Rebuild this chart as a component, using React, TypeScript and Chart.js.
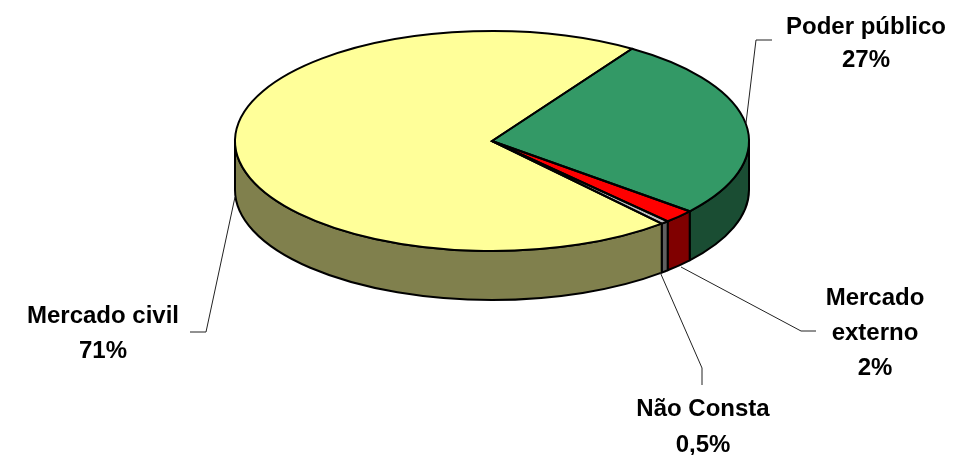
import React, { useEffect, useRef } from "react";
import { Chart, registerables } from "chart.js";

Chart.register(...registerables);

const categories = ["Poder público", "Mercado externo", "Não Consta", "Mercado civil"];
const values = [27, 2, 0.5, 71];
const topColors = ["#339966", "#FF0000", "#C0C0C0", "#FFFF99"];
const wallColors = ["#1A4D33", "#800000", "#606060", "#80804D"];
const labelLines = [
  ["Poder público", "27%"],
  ["Mercado", "externo", "2%"],
  ["Não Consta", "0,5%"],
  ["Mercado civil", "71%"],
];
const labelAnchors = [
  { x: 866, ys: [34, 67] },
  { x: 875, ys: [305, 340, 375] },
  { x: 703, ys: [416, 452] },
  { x: 103, ys: [323, 358] },
];
const leaders = [
  [[746, 123], [756, 40], [772, 40]],
  [[681, 267], [801, 331], [816, 331]],
  [[660, 272], [702, 368], [702, 385]],
  [[235, 197], [206, 332], [190, 332]],
];

const XSTRETCH = 257 / 110;
const DEPTH = 49;

const pie3d = {
  id: "pie3d",
  beforeDatasetsDraw(chart: any) {
    const ctx = chart.ctx;
    const arcs = chart.getDatasetMeta(0).data;
    const cx = arcs[0].x;
    const cy = arcs[0].y;
    const ry = arcs[0].outerRadius;
    const rx = ry * XSTRETCH;
    ctx.save();
    ctx.lineWidth = 2;
    ctx.strokeStyle = "#000";
    ctx.lineJoin = "round";
    arcs.forEach((a: any, i: number) => {
      [-2 * Math.PI, 0, 2 * Math.PI].forEach((k) => {
        const lo = Math.max(a.startAngle + k, 0);
        const hi = Math.min(a.endAngle + k, Math.PI);
        if (hi <= lo) return;
        ctx.beginPath();
        ctx.ellipse(cx, cy, rx, ry, 0, lo, hi);
        ctx.ellipse(cx, cy + DEPTH, rx, ry, 0, hi, lo, true);
        ctx.closePath();
        ctx.fillStyle = wallColors[i];
        ctx.fill();
        ctx.stroke();
      });
    });
    ctx.restore();
    ctx.save();
    ctx.translate(cx, cy);
    ctx.scale(XSTRETCH, 1);
    ctx.translate(-cx, -cy);
  },
  afterDatasetsDraw(chart: any) {
    const ctx = chart.ctx;
    ctx.restore();
    const arcs = chart.getDatasetMeta(0).data;
    ctx.save();
    ctx.lineWidth = 2;
    ctx.strokeStyle = "#000";
    ctx.lineJoin = "miter";
    arcs.forEach((a: any) => {
      const ry = a.outerRadius;
      ctx.beginPath();
      ctx.moveTo(a.x, a.y);
      ctx.ellipse(a.x, a.y, ry * XSTRETCH, ry, 0, a.startAngle, a.endAngle);
      ctx.closePath();
      ctx.stroke();
    });
    ctx.lineWidth = 1;
    ctx.strokeStyle = "#222";
    leaders.forEach((pts) => {
      ctx.beginPath();
      pts.forEach((p, i) => (i ? ctx.lineTo(p[0], p[1]) : ctx.moveTo(p[0], p[1])));
      ctx.stroke();
    });
    ctx.fillStyle = "#000";
    ctx.font = 'bold 24px "Liberation Sans", Arial, sans-serif';
    ctx.textAlign = "center";
    ctx.textBaseline = "alphabetic";
    labelLines.forEach((lines, i) => {
      lines.forEach((t, j) => ctx.fillText(t, labelAnchors[i].x, labelAnchors[i].ys[j]));
    });
    ctx.restore();
  },
};

export default function App() {
  const ref = useRef<HTMLCanvasElement>(null);
  useEffect(() => {
    document.body.style.margin = "0";
    const chart = new Chart(ref.current as HTMLCanvasElement, {
      type: "pie",
      data: {
        labels: categories,
        datasets: [
          { data: values, backgroundColor: topColors, borderWidth: 0, clip: false } as any,
        ],
      },
      options: {
        responsive: false,
        animation: false,
        rotation: 33,
        layout: { padding: { left: 235, right: 209, top: 31, bottom: 204 } },
        plugins: { legend: { display: false }, tooltip: { enabled: false } },
      },
      plugins: [pie3d],
    });
    return () => chart.destroy();
  }, []);
  return <canvas ref={ref} width={958} height={455} style={{ display: "block" }} />;
}
